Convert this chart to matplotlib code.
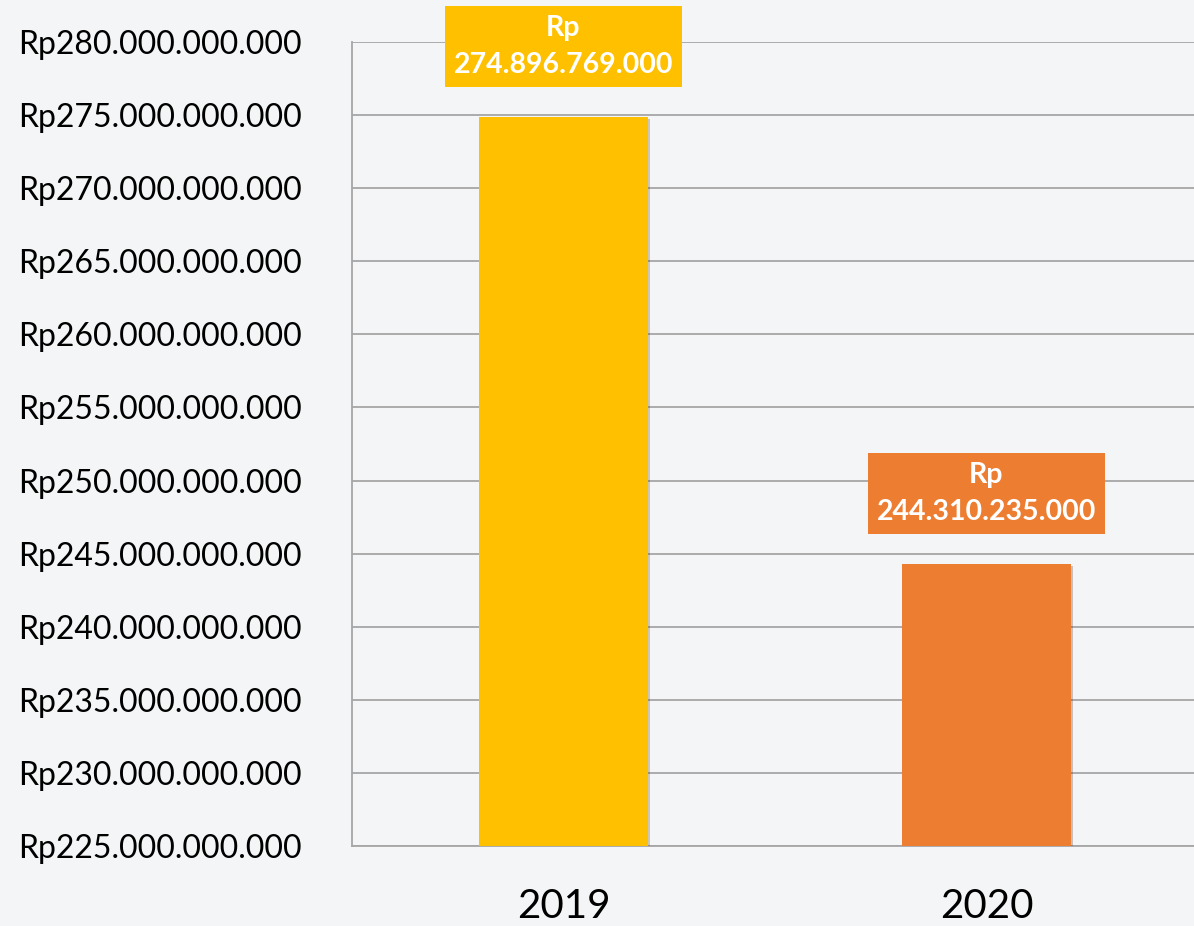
import numpy as np
import matplotlib.pyplot as plt
import matplotlib.patheffects as pe
from matplotlib.ticker import FuncFormatter

years = ['2019', '2020']
values = [274896769000, 244310235000]
colors = ['#FFC000', '#ED7D31']
labels = ['Rp\n274.896.769.000', 'Rp\n244.310.235.000']

plt.rcParams['font.family'] = ['Lato', 'DejaVu Sans']

fig = plt.figure(figsize=(11.94, 9.26), dpi=100)
fig.patch.set_facecolor('#f4f5f6')
ax = fig.add_axes([0.2948, 0.0864, 0.7085, 0.8682])
ax.set_facecolor('none')

x = np.arange(len(years))
bars = ax.bar(x, values, width=0.4, color=colors, zorder=3)
# light drop shadow like the original office chart
for b in bars:
    b.set_path_effects([pe.SimplePatchShadow(offset=(1.5, -1.5), alpha=0.25), pe.Normal()])

ax.set_xlim(-0.5, 1.5)
ax.set_ylim(225e9, 280e9)
ax.set_yticks(np.arange(225e9, 280e9 + 1, 5e9))


def rupiah(v, pos):
    s = '{:,.0f}'.format(v).replace(',', '.')
    return 'Rp' + s


ax.yaxis.set_major_formatter(FuncFormatter(rupiah))
ax.set_xticks(x)
ax.set_xticklabels(years)

ax.grid(axis='y', color='#a6a6a6', linewidth=1.3, zorder=0)
for s in ['top', 'right']:
    ax.spines[s].set_visible(False)
ax.spines['left'].set_color('#a6a6a6')
ax.spines['bottom'].set_color('#a6a6a6')
ax.spines['left'].set_linewidth(1.3)
ax.spines['bottom'].set_linewidth(1.3)

ax.tick_params(axis='y', length=0, pad=36, labelsize=23, labelcolor='black')
ax.tick_params(axis='x', length=0, pad=30, labelsize=29, labelcolor='black')

for b, lab, c in zip(bars, labels, colors):
    ax.annotate(lab, xy=(b.get_x() + b.get_width() / 2, b.get_height()),
                xytext=(0, 70), textcoords='offset pixels',
                ha='center', va='center', fontsize=20.5, fontweight='bold',
                color='white', linespacing=1.5, zorder=5,
                bbox=dict(boxstyle='square,pad=0.32', facecolor=c, edgecolor='none'))

fig.savefig('out.png', dpi=100, facecolor=fig.get_facecolor())
